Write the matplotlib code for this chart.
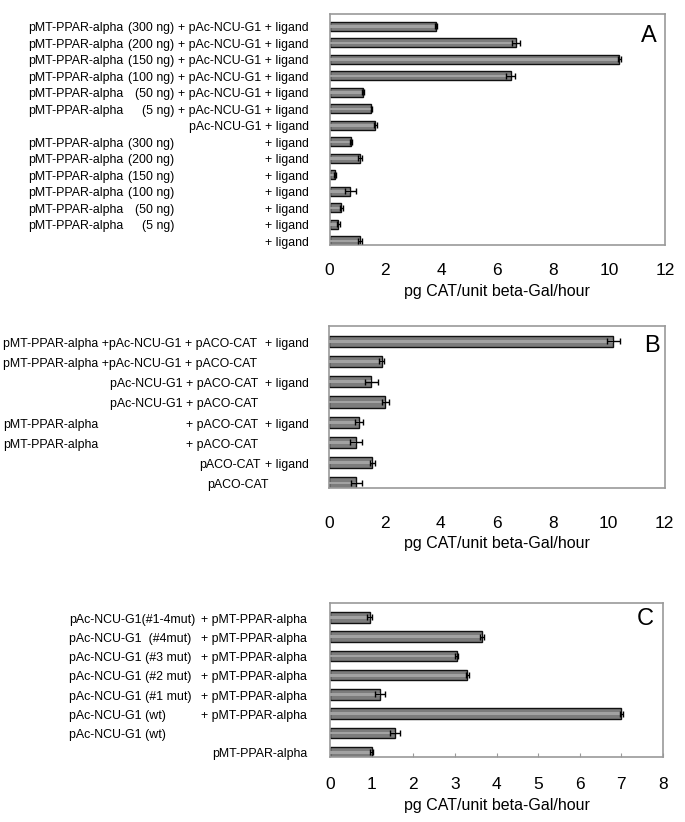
import numpy as np
import matplotlib.pyplot as plt
import matplotlib.transforms as mtransforms

plt.rcParams['font.family'] = ['Liberation Sans', 'DejaVu Sans']

# ---- panel A data (top to bottom)
a_vals = [3.82, 6.67, 10.36, 6.48, 1.19, 1.5, 1.64, 0.76, 1.1, 0.2, 0.75, 0.42, 0.32, 1.1]
a_err = [0.04, 0.14, 0.05, 0.15, 0.03, 0.03, 0.05, 0.03, 0.07, 0.05, 0.19, 0.06, 0.05, 0.07]
a_name = ["pMT-PPAR-alpha"] * 6 + [""] + ["pMT-PPAR-alpha"] * 6 + [""]
a_amount = ["(300 ng)", "(200 ng)", "(150 ng)", "(100 ng)", "(50 ng)", "(5 ng)", "",
            "(300 ng)", "(200 ng)", "(150 ng)", "(100 ng)", "(50 ng)", "(5 ng)", ""]
a_tail = ["+ pAc-NCU-G1 + ligand"] * 6 + ["pAc-NCU-G1 + ligand"] + ["+ ligand"] * 7

# ---- panel B data
b_vals = [10.17, 1.88, 1.52, 2.02, 1.06, 0.96, 1.55, 0.98]
b_err = [0.24, 0.08, 0.25, 0.14, 0.14, 0.22, 0.08, 0.2]
b_left = ["pMT-PPAR-alpha +pAc-NCU-G1 + pACO-CAT", "pMT-PPAR-alpha +pAc-NCU-G1 + pACO-CAT",
          "", "", "pMT-PPAR-alpha", "pMT-PPAR-alpha", "", ""]
b_mid = ["", "", "pAc-NCU-G1 + pACO-CAT", "pAc-NCU-G1 + pACO-CAT",
         "+ pACO-CAT", "+ pACO-CAT", "pACO-CAT", "pACO-CAT"]
b_tail = ["+ ligand", "", "+ ligand", "", "+ ligand", "", "+ ligand", ""]

# ---- panel C data
c_vals = [0.95, 3.66, 3.04, 3.3, 1.2, 7.0, 1.55, 1.0]
c_err = [0.05, 0.05, 0.04, 0.03, 0.12, 0.03, 0.12, 0.03]
c_left = ["pAc-NCU-G1(#1-4mut)", "pAc-NCU-G1  (#4mut)", "pAc-NCU-G1 (#3 mut)",
          "pAc-NCU-G1 (#2 mut)", "pAc-NCU-G1 (#1 mut)", "pAc-NCU-G1 (wt)",
          "pAc-NCU-G1 (wt)", ""]
c_tail = ["+ pMT-PPAR-alpha"] * 6 + ["", "pMT-PPAR-alpha"]

W, H = 685, 822
fig = plt.figure(figsize=(W / 100, H / 100), dpi=100)

LBL_FS = 8.9


def panel(box, vals, errs, xmax, step, letter, letter_pos, pad, minor_ticks=False):
    l, r, t, b = box
    ax = fig.add_axes([l / W, 1 - b / H, (r - l) / W, (b - t) / H])
    n = len(vals)
    y = np.arange(n)[::-1]
    ax.barh(y, vals, height=0.55, color='#7c7c7c', edgecolor='#111111', linewidth=1.0, zorder=2)
    ax.barh(y, vals, height=0.14, color='#a2a2a2', linewidth=0, zorder=3)
    ax.errorbar(vals, y, xerr=errs, fmt='none', ecolor='black', elinewidth=1,
                capsize=2.5, capthick=1, zorder=4)
    ax.set_xlim(0, xmax)
    ax.set_ylim(-0.25, n - 0.25)
    ax.set_yticks([])
    ax.set_xticks(np.arange(0, xmax + 0.01, step))
    ax.tick_params(axis='x', labelsize=12.5, pad=pad,
                   length=3 if minor_ticks else 0, direction='in', color='#999999')
    for s in ax.spines.values():
        s.set_color('#9a9a9a')
        s.set_linewidth(1.2)
    ax.set_xlabel('pg CAT/unit beta-Gal/hour', fontsize=11.5, labelpad=4)
    ax.text(letter_pos[0], letter_pos[1], letter, transform=ax.transAxes,
            ha='right', va='center', fontsize=17)
    return ax, y


def put(ax, ys, texts, xpx, ha):
    tr = mtransforms.blended_transform_factory(fig.transFigure, ax.transData)
    if np.isscalar(xpx):
        xpx = [xpx] * len(texts)
    for yy, s, xp in zip(ys, texts, xpx):
        if s:
            ax.text(xp / W, yy - 0.12, s, transform=tr, ha=ha, va='center',
                    fontsize=LBL_FS, clip_on=False)


axA, yA = panel((329.5, 665, 14, 245), a_vals, a_err, 12, 2, 'A', (0.976, 0.905), 13)
put(axA, yA, a_name, 28, 'left')
put(axA, yA, a_amount, 174, 'right')
put(axA, yA, a_tail, 309, 'right')

axB, yB = panel((329, 664.5, 326, 488), b_vals, b_err, 12, 2, 'B', (0.987, 0.879), 20)
put(axB, yB, b_left, 3, 'left')
put(axB, yB, b_mid, [0, 0, 110, 110, 186, 186, 199, 207], 'left')
put(axB, yB, b_tail, 309, 'right')

axC, yC = panel((330, 663, 603, 757), c_vals, c_err, 8, 1, 'C', (0.972, 0.896), 14.5,
                minor_ticks=True)
put(axC, yC, c_left, 69, 'left')
put(axC, yC, c_tail, 307, 'right')

fig.savefig('out.png', dpi=100)
